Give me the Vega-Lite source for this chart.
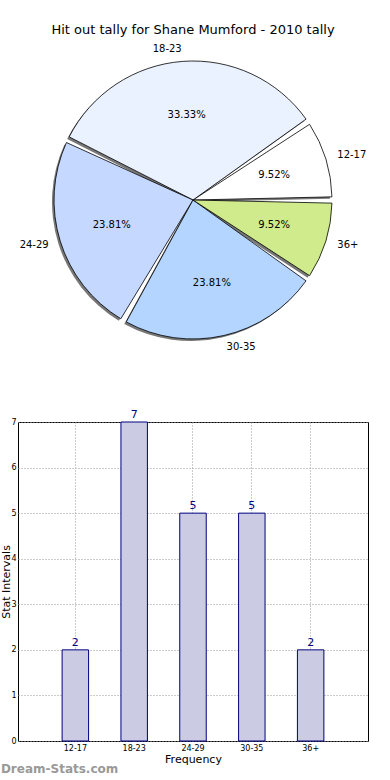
{
  "$schema": "https://vega.github.io/schema/vega-lite/v6.json",
  "padding": {"top": 24, "left": 0, "right": 0, "bottom": 0},
  "spacing": 80,
  "bounds": "flush",
  "config": {"font": "DejaVu Sans", "view": {"stroke": null}},
  "datasets": {
    "d": [
      {"cat": "12-17", "count": 2, "pct": "9.52%"},
      {"cat": "18-23", "count": 7, "pct": "33.33%"},
      {"cat": "24-29", "count": 5, "pct": "23.81%"},
      {"cat": "30-35", "count": 5, "pct": "23.81%"},
      {"cat": "36+", "count": 2, "pct": "9.52%"}
    ]
  },
  "vconcat": [
    {
      "width": 350,
      "height": 284,
      "title": {"text": "Hit out tally for Shane Mumford - 2010 tally", "fontSize": 13, "fontWeight": "normal", "color": "#000", "offset": 7, "anchor": "middle"},
      "data": {"name": "d"},
      "encoding": {
        "theta": {"field": "count", "type": "quantitative", "stack": true, "scale": {"range": [1.5708, -4.7124]}},
        "order": {"field": "cat", "sort": "ascending"}
      },
      "layer": [
        {
          "mark": {"type": "arc", "outerRadius": 139, "padAngle": 0.045, "fill": "#777", "xOffset": -2, "yOffset": 2}
        },
        {
          "mark": {"type": "arc", "outerRadius": 139, "padAngle": 0.045, "stroke": "#000", "strokeWidth": 0.8},
          "encoding": {
            "color": {"field": "cat", "type": "nominal", "legend": null,
              "scale": {"domain": ["12-17", "18-23", "24-29", "30-35", "36+"], "range": ["#ffffff", "#eaf1ff", "#c5d8ff", "#b4d5ff", "#d0eb8b"]}}
          }
        },
        {
          "mark": {"type": "text", "radius": 85, "fontSize": 10, "color": "#000"},
          "encoding": {"text": {"field": "pct"}}
        },
        {
          "mark": {"type": "text", "radius": 151, "fontSize": 10, "color": "#000", "align": "left", "baseline": "middle"},
          "encoding": {"text": {"condition": {"test": "datum.cat == '12-17' || datum.cat == '30-35' || datum.cat == '36+'", "field": "cat"}, "value": ""}}
        },
        {
          "mark": {"type": "text", "radius": 151, "fontSize": 10, "color": "#000", "align": "right", "baseline": "middle"},
          "encoding": {"text": {"condition": {"test": "datum.cat == '18-23' || datum.cat == '24-29'", "field": "cat"}, "value": ""}}
        }
      ]
    },
    {
      "width": 350,
      "height": 319,
      "view": {"stroke": "#000", "strokeWidth": 1},
      "title": {"text": "Dream-Stats.com", "orient": "bottom", "anchor": "start", "color": "#999", "fontSize": 12, "fontWeight": "bold", "offset": 0},
      "data": {"name": "d"},
      "encoding": {
        "x": {"field": "cat", "type": "nominal", "sort": null,
          "scale": {"paddingInner": 0.55, "paddingOuter": 0.75},
          "axis": {"labelAngle": 0, "title": "Frequency", "titleFontSize": 11, "titleFontWeight": "normal", "titlePadding": 1, "labelFontSize": 8, "labelColor": "#000", "labelPadding": 3, "domain": false, "ticks": false, "grid": true, "gridDash": [1, 2], "gridColor": "#999", "bandPosition": 0.5}},
        "y": {"field": "count", "type": "quantitative", "scale": {"domain": [0, 7]},
          "axis": {"values": [0, 1, 2, 3, 4, 5, 6, 7], "title": "Stat Intervals", "titleFontSize": 11, "titleFontWeight": "normal", "titlePadding": -1, "labelFontSize": 8, "labelColor": "#000", "labelPadding": 2, "domain": false, "ticks": false, "grid": true, "gridDash": [1, 2], "gridColor": "#999"}}
      },
      "layer": [
        {"mark": {"type": "bar", "fill": "#cbcce3", "stroke": "#000080", "strokeWidth": 1}},
        {"mark": {"type": "text", "color": "#000080", "fontSize": 11, "baseline": "bottom", "dy": -2}, "encoding": {"text": {"field": "count"}}}
      ]
    }
  ]
}
